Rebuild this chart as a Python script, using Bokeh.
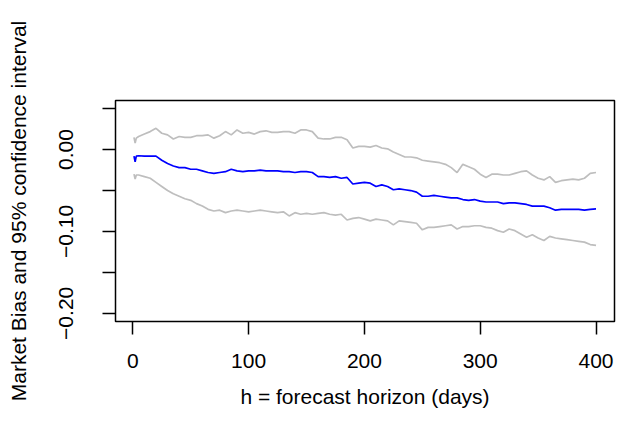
from bokeh.plotting import figure
from bokeh.models import Range1d, FixedTicker
from bokeh.embed import file_html
from bokeh.resources import INLINE

days = [1, 2, 3] + list(range(5, 401, 5))

bias = [-0.008, -0.015, -0.008, -0.0075, -0.008, -0.0078, -0.008, -0.013, -0.017, -0.020,
        -0.022, -0.022, -0.024, -0.024, -0.026, -0.028, -0.029, -0.028, -0.027, -0.024,
        -0.026, -0.027, -0.026, -0.026, -0.025, -0.026, -0.026, -0.026, -0.027, -0.027,
        -0.028, -0.027, -0.027, -0.028, -0.033, -0.033, -0.034, -0.033, -0.035, -0.034,
        -0.042, -0.041, -0.040, -0.041, -0.045, -0.043, -0.045, -0.049, -0.048, -0.049,
        -0.050, -0.052, -0.057, -0.057, -0.056, -0.057, -0.058, -0.059, -0.059, -0.061,
        -0.062, -0.061, -0.063, -0.064, -0.064, -0.064, -0.066, -0.065, -0.065, -0.066,
        -0.067, -0.069, -0.069, -0.069, -0.071, -0.074, -0.073, -0.073, -0.073, -0.073,
        -0.074, -0.073, -0.0725]

upper = [0.015, 0.008, 0.014, 0.016, 0.019, 0.022, 0.026, 0.020, 0.018, 0.013,
         0.016, 0.015, 0.015, 0.017, 0.017, 0.018, 0.014, 0.017, 0.022, 0.018,
         0.024, 0.020, 0.021, 0.019, 0.022, 0.023, 0.021, 0.021, 0.022, 0.022,
         0.020, 0.024, 0.024, 0.022, 0.014, 0.013, 0.013, 0.015, 0.015, 0.012,
         0.002, 0.004, 0.004, 0.003, 0.005, 0.002, 0.001, -0.003, -0.006, -0.009,
         -0.009, -0.010, -0.013, -0.014, -0.015, -0.016, -0.018, -0.022, -0.028, -0.018,
         -0.021, -0.024, -0.030, -0.034, -0.030, -0.030, -0.031, -0.031, -0.029, -0.027,
         -0.026, -0.031, -0.035, -0.037, -0.033, -0.040, -0.038, -0.037, -0.036, -0.037,
         -0.035, -0.029, -0.028]

lower = [-0.030, -0.036, -0.031, -0.031, -0.033, -0.035, -0.040, -0.045, -0.050, -0.054,
         -0.057, -0.060, -0.062, -0.066, -0.069, -0.073, -0.075, -0.074, -0.077, -0.075,
         -0.074, -0.075, -0.076, -0.075, -0.074, -0.075, -0.076, -0.077, -0.076, -0.081,
         -0.077, -0.079, -0.078, -0.079, -0.078, -0.077, -0.079, -0.080, -0.079, -0.086,
         -0.084, -0.083, -0.085, -0.087, -0.085, -0.086, -0.087, -0.092, -0.087, -0.088,
         -0.089, -0.090, -0.098, -0.095, -0.095, -0.094, -0.093, -0.092, -0.097, -0.094,
         -0.094, -0.093, -0.093, -0.095, -0.096, -0.099, -0.101, -0.097, -0.099, -0.103,
         -0.107, -0.104, -0.108, -0.111, -0.106, -0.108, -0.109, -0.110, -0.111, -0.112,
         -0.113, -0.116, -0.117]

x_ticks = [0, 100, 200, 300, 400]
y_major_ticks = [-0.20, -0.10, 0.00]
y_minor_ticks = [-0.15, -0.05, 0.05]
y_tick_labels = {-0.20: "\u22120.20", -0.10: "\u22120.10", 0.00: "0.00"}

FONT = "Liberation Sans"
FS = "21px"

p = figure(width=618, height=434, output_backend="svg", toolbar_location=None,
           x_range=Range1d(-14.96, 415.96), y_range=Range1d(-0.21, 0.06),
           min_border_left=115, min_border_right=4, min_border_top=100, min_border_bottom=113)

p.background_fill_color = "white"
p.border_fill_color = "white"
p.grid.visible = False
p.outline_line_color = "black"
p.outline_line_width = 1.5

p.line(days, upper, line_color="#BEBEBE", line_width=1.7)
p.line(days, lower, line_color="#BEBEBE", line_width=1.7)
p.line(days, bias, line_color="#0000FF", line_width=1.7)

xa = p.xaxis[0]
xa.ticker = FixedTicker(ticks=x_ticks)
xa.axis_line_color = None
xa.major_tick_in = 0
xa.major_tick_out = 13
xa.major_tick_line_width = 1.5
xa.minor_tick_line_color = None
xa.major_label_standoff = 19
xa.major_label_text_font = FONT
xa.major_label_text_font_size = FS
xa.major_label_text_color = "black"
xa.axis_label = "h = forecast horizon (days)"
xa.axis_label_text_font = FONT
xa.axis_label_text_font_size = FS
xa.axis_label_text_font_style = "normal"
xa.axis_label_text_color = "black"
xa.axis_label_standoff = 14

ya = p.yaxis[0]
ya.ticker = FixedTicker(ticks=y_major_ticks, minor_ticks=y_minor_ticks)
ya.axis_line_color = None
ya.major_tick_in = 0
ya.major_tick_out = 13
ya.minor_tick_in = 0
ya.minor_tick_out = 13
ya.major_tick_line_width = 1.5
ya.minor_tick_line_width = 1.5
ya.minor_tick_line_color = "black"
ya.major_label_overrides = y_tick_labels
ya.major_label_orientation = "vertical"
ya.major_label_standoff = 29
ya.major_label_text_font = FONT
ya.major_label_text_font_size = FS
ya.major_label_text_color = "black"
ya.axis_label = "Market Bias and 95% confidence interval"
ya.axis_label_text_font = FONT
ya.axis_label_text_font_size = FS
ya.axis_label_text_font_style = "normal"
ya.axis_label_text_color = "black"
ya.axis_label_standoff = 27

open("out.html", "w").write(file_html(p, INLINE))
